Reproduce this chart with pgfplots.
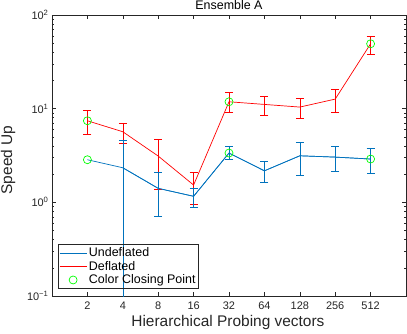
\documentclass[border=0pt]{standalone}
\usepackage{fontspec}
\setmainfont{Liberation Sans}
\usepackage{pgfplots}
\pgfplotsset{compat=1.18}
\definecolor{mblue}{rgb}{0,0.447,0.741}
\definecolor{mgray}{rgb}{0.15,0.15,0.15}
\definecolor{mgreen}{rgb}{0,1,0}
\pgfplotsset{
    linelegend/.style={legend image code/.code={\draw[##1] (0bp,0bp) -- (27bp,0bp);}},
    marklegend/.style={legend image code/.code={\draw[##1] plot[only marks] coordinates {(13.5bp,0bp)};}},
}

\begin{document}
\begin{tikzpicture}
\useasboundingbox (-52bp,-38bp) rectangle (355bp,296bp);
\begin{axis}[
    scale only axis,
    width=354bp, height=281bp,
    ymode=log, log basis y=10,
    xmin=0, xmax=10, ymin=0.1, ymax=100,
    xtick={1,...,9},
    xticklabels={2,4,8,16,32,64,128,256,512},
    ytick={0.1,1,10,100},
    minor ytick={0.2,0.3,0.4,0.5,0.6,0.7,0.8,0.9,2,3,4,5,6,7,8,9,20,30,40,50,60,70,80,90},
    yticklabels={10\textsuperscript{−1},10\textsuperscript{0},10\textsuperscript{1},10\textsuperscript{2}},
    tick align=inside,
    major tick length=4bp, minor tick length=2bp,
    axis line style={mgray, line width=0.5bp},
    every tick/.style={mgray, line width=0.5bp},
    tick label style={font=\fontsize{11}{13}\selectfont, text=mgray},
    xticklabel style={yshift=-2bp},
    title={Ensemble A},
    title style={font=\fontsize{12.5}{14}\selectfont, text=black,
        at={(axis description cs:0.5,1)}, anchor=south, yshift=-0.5bp, inner sep=0pt},
    xlabel={Hierarchical Probing vectors},
    ylabel={Speed Up},
    label style={font=\fontsize{15.5}{17}\selectfont, text=mgray},
    xlabel style={at={(axis description cs:0.497,-0.096)}, anchor=center},
    ylabel style={at={(axis description cs:-0.124,0.484)}, anchor=center},
    legend style={at={(axis description cs:0.017,0.025)}, anchor=south west,
        font=\fontsize{12.5}{14}\selectfont, draw=mgray, line width=0.5bp, fill=none,
        inner xsep=1bp, inner ysep=1.5bp, row sep=-1bp, legend cell align=left},
    error bars/error mark options={rotate=90, mark size=4bp, line width=0.7bp},
]
% Undeflated line
\addplot[mblue, line width=0.7bp, mark=none, linelegend] coordinates {
    (1,2.85) (2,2.34) (3,1.41) (4,1.16) (5,3.36) (6,2.17) (7,3.14) (8,3.04) (9,2.90)
};
\addlegendentry{Undeflated}
% Deflated line with its error bars
\addplot[red, line width=0.7bp, mark=none, linelegend,
    error bars/.cd, y dir=both, y explicit] coordinates {
    (1,7.43) += (0,2.07) -= (0,2.07)
    (2,5.67) += (0,1.35) -= (0,1.41)
    (3,3.12) += (0,1.62) -= (0,1.73)
    (4,1.53) += (0,0.54) -= (0,0.58)
    (5,11.85) += (0,2.95) -= (0,2.81)
    (6,11.1) += (0,2.6) -= (0,2.7)
    (7,10.4) += (0,2.5) -= (0,2.6)
    (8,12.65) += (0,3.55) -= (0,3.61)
    (9,49.3) += (0,10.3) -= (0,11.0)
};
\addlegendentry{Deflated}
% Undeflated error bars (none at the first point); value += upper gap -= lower gap
\addplot[forget plot, mblue, line width=0.7bp, mark=none,
    error bars/.cd, y dir=both, y explicit] coordinates {
    (2,2.34) += (0,2.25) -= (0,2.339)
    (3,1.41) += (0,0.68) -= (0,0.70)
    (4,1.16) += (0,0.25) -= (0,0.275)
    (5,3.36) += (0,0.56) -= (0,0.48)
    (6,2.17) += (0,0.57) -= (0,0.55)
    (7,3.14) += (0,1.19) -= (0,1.18)
    (8,3.04) += (0,0.92) -= (0,0.88)
    (9,2.90) += (0,0.87) -= (0,0.86)
};
% color closing points
\addplot[only marks, mark=o, mark size=4bp, mgreen, line width=0.7bp, marklegend] coordinates {
    (1,2.85) (5,3.36) (9,2.90)
    (1,7.43) (5,11.85) (9,49.3)
};
\addlegendentry{Color Closing Point}
\end{axis}
\end{tikzpicture}
\end{document}
